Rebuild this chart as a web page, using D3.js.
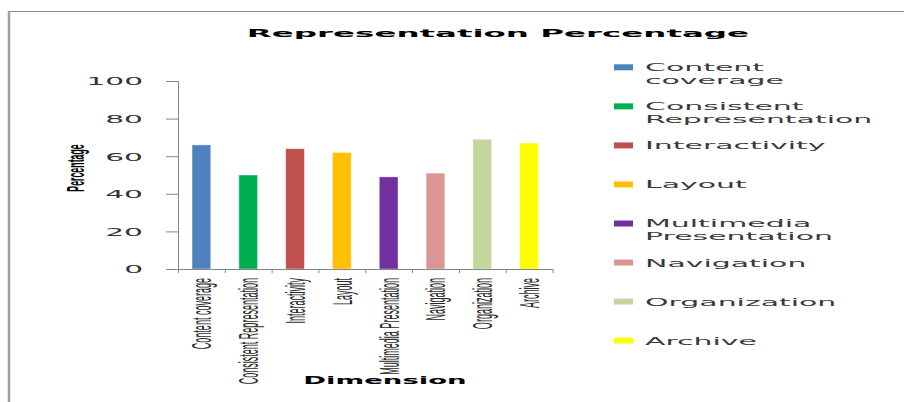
<!DOCTYPE html>
<html>
<head>
<meta charset="utf-8">
<script src="https://cdn.jsdelivr.net/npm/d3@7/dist/d3.min.js"></script>
<style>
  html, body { margin: 0; padding: 0; background: #fff; }
  svg { display: block; }
</style>
</head>
<body>
<svg id="chart" width="904" height="402"></svg>
<script>
// ---- data ----
const title = "Representation Percentage";
const xTitle = "Dimension";
const yTitle = "Percentage";
const categories = ["Content coverage", "Consistent Representation", "Interactivity", "Layout",
                    "Multimedia Presentation", "Navigation", "Organization", "Archive"];
const values = [66, 50, 64, 62, 49, 51, 69, 67];
const colors = ["#4F81BD", "#00B050", "#C0504D", "#FFC000", "#7030A0", "#D99694", "#C3D69B", "#FFFF00"];
const yTicks = [0, 20, 40, 60, 80, 100];

// ---- layout ----
const svg = d3.select("#chart");
const W = 904, H = 402;
const plot = { left: 178, right: 552.5, top: 81, bottom: 269 };

// frame
svg.append("line").attr("x1", 8).attr("x2", W).attr("y1", 11.5).attr("y2", 11.5)
  .attr("stroke", "#8c8c8c").attr("stroke-width", 1.2);
svg.append("line").attr("x1", 9).attr("x2", 9).attr("y1", 11).attr("y2", H)
  .attr("stroke", "#a0a0a0").attr("stroke-width", 2.5);

// helper: stretch text along its baseline by a factor (glyphs + spacing)
function stretch(sel, factor) {
  sel.each(function () {
    const len = this.getComputedTextLength();
    d3.select(this).attr("textLength", len * factor).attr("lengthAdjust", "spacingAndGlyphs");
  });
}

const x = d3.scaleBand().domain(categories).range([plot.left, plot.right])
  .paddingInner(0.6).paddingOuter(0.3);
const y = d3.scaleLinear().domain([0, 100]).range([plot.bottom, plot.top]);

// y axis
const yAxis = svg.append("g").attr("transform", `translate(${plot.left},0)`)
  .call(d3.axisLeft(y).tickValues(yTicks).tickSize(12).tickSizeOuter(0).tickPadding(23));
yAxis.select(".domain").attr("stroke", "#868686").attr("d", `M0.5,${plot.top}V${plot.bottom + 2}`);
yAxis.selectAll(".tick line").attr("stroke", "#868686");
yAxis.selectAll(".tick text")
  .attr("font-family", "DejaVu Sans").attr("font-size", 11).attr("fill", "#333")
  .attr("dy", "0.36em");
stretch(yAxis.selectAll(".tick text"), 2.7);

// bars
svg.append("g").selectAll("rect").data(values).join("rect")
  .attr("x", (d, i) => x(categories[i]))
  .attr("width", x.bandwidth())
  .attr("y", d => y(d))
  .attr("height", d => y(0) - y(d))
  .attr("fill", (d, i) => colors[i])
  .attr("stroke", "#ffffff").attr("stroke-opacity", 0.5).attr("stroke-width", 0.8);

// x axis
const step = x.step();
const xAxisG = svg.append("g");
xAxisG.append("line").attr("x1", plot.left).attr("x2", plot.right)
  .attr("y1", plot.bottom + 0.5).attr("y2", plot.bottom + 0.5).attr("stroke", "#868686");
xAxisG.selectAll("line.tk").data(d3.range(categories.length + 1)).join("line")
  .attr("class", "tk")
  .attr("x1", i => plot.left + i * step + 0.5).attr("x2", i => plot.left + i * step + 0.5)
  .attr("y1", plot.bottom).attr("y2", plot.bottom + 4).attr("stroke", "#868686");

// x category labels (rotated, condensed, horizontally thickened)
const xl = svg.append("g").selectAll("text").data(categories).join("text")
  .attr("transform", d => `translate(${x(d) + x.bandwidth() / 2},278) scale(2.5,1) rotate(-90)`)
  .attr("text-anchor", "end")
  .attr("dy", "0.36em")
  .attr("font-family", "Liberation Sans").attr("font-size", 11).attr("fill", "#2a2a2a")
  .text(d => d);
stretch(xl, 0.82);

// title
const t = svg.append("text").attr("x", 498).attr("y", 37).attr("text-anchor", "middle")
  .attr("font-family", "DejaVu Sans").attr("font-weight", "bold").attr("font-size", 11)
  .attr("fill", "#000").text(title);
stretch(t, 2.95);

// x title
const xt = svg.append("text").attr("x", 385).attr("y", 384).attr("text-anchor", "middle")
  .attr("font-family", "DejaVu Sans").attr("font-weight", "bold").attr("font-size", 11)
  .attr("fill", "#000").text(xTitle);
stretch(xt, 2.5);

// y title
const yt = svg.append("text")
  .attr("transform", `translate(75.5,168) scale(2.2,1) rotate(-90)`)
  .attr("text-anchor", "middle").attr("dy", "0.36em")
  .attr("font-family", "Liberation Sans").attr("font-weight", "bold").attr("font-size", 11)
  .attr("fill", "#000").text(yTitle);
stretch(yt, 0.8);

// legend
const legend = svg.append("g");
const items = legend.selectAll("g").data(categories).join("g")
  .attr("transform", (d, i) => `translate(614,${67.3 + i * 39.05})`);
items.append("rect").attr("x", 0).attr("y", -3).attr("width", 19).attr("height", 6)
  .attr("fill", (d, i) => colors[i]);
items.each(function (d) {
  const g = d3.select(this);
  d.split(" ").forEach((ln, j) => {
    const tx = g.append("text").attr("x", 31).attr("y", j * 12.3).attr("dy", "0.36em")
      .attr("font-family", "DejaVu Sans").attr("font-size", 11).attr("fill", "#3a3a3a")
      .text(ln);
    stretch(tx, 2.72);
  });
});
</script>
</body>
</html>
